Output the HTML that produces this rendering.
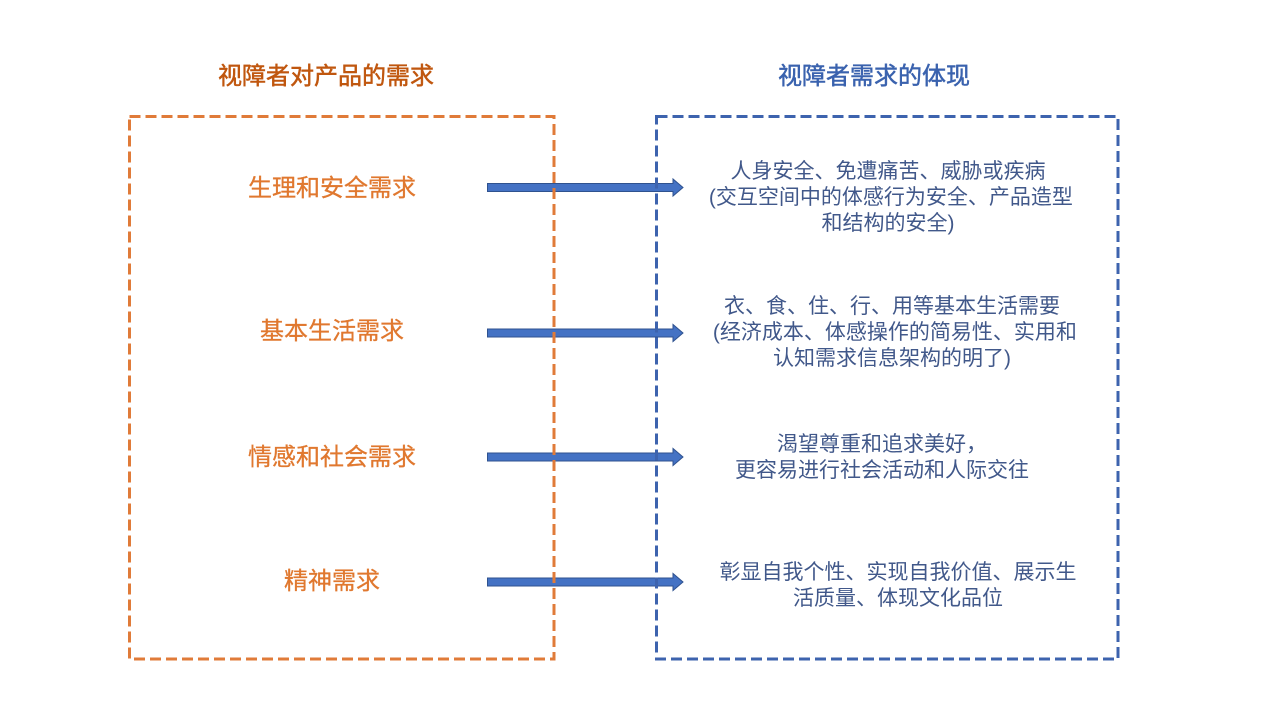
<!DOCTYPE html>
<html>
<head>
<meta charset="utf-8">
<style>
html,body{margin:0;padding:0;background:#fff;}
body{width:1280px;height:720px;overflow:hidden;position:relative;font-family:"Liberation Sans","Noto Sans CJK SC",sans-serif;}
svg{position:absolute;left:0;top:0;}
.t{position:absolute;white-space:nowrap;transform:translateX(-50%);text-align:center;}
.title{font-size:24px;line-height:30px;-webkit-text-stroke:0.5px currentColor;}
.lab{font-size:24px;line-height:30px;color:#E0782F;-webkit-text-stroke:0.3px currentColor;}
.rt{font-size:21px;line-height:26px;color:#41588A;}
</style>
</head>
<body>
<svg width="1280" height="720" viewBox="0 0 1280 720">
  <g fill="#4472C4" stroke="#2F528F" stroke-width="1">
    <polygon points="487.5,183.5 673,183.5 673,179 683,187.5 673,196 673,191.5 487.5,191.5"/>
    <polygon points="487.5,329 673,329 673,324.5 683,333 673,341.5 673,337 487.5,337"/>
    <polygon points="487.5,453 673,453 673,448.5 683,457 673,465.5 673,461 487.5,461"/>
    <polygon points="487.5,578 673,578 673,573.5 683,582 673,590.5 673,586 487.5,586"/>
  </g>
  <rect x="129.5" y="116.5" width="424.5" height="542.5" fill="none" stroke="#E07B39" stroke-width="3" stroke-dasharray="11 5"/>
  <rect x="656.5" y="116.5" width="461.5" height="542.5" fill="none" stroke="#3D63AE" stroke-width="3" stroke-dasharray="11 5"/>
</svg>

<div class="t title" style="left:326px;top:62px;color:#C0570F;">视障者对产品的需求</div>
<div class="t title" style="left:874px;top:62px;color:#3A62AE;">视障者需求的体现</div>

<div class="t lab" style="left:332px;top:174px;">生理和安全需求</div>
<div class="t lab" style="left:332px;top:317px;">基本生活需求</div>
<div class="t lab" style="left:332px;top:443px;">情感和社会需求</div>
<div class="t lab" style="left:332px;top:567px;">精神需求</div>

<div class="t rt" style="left:888px;top:159px;">人身安全、免遭痛苦、威胁或疾病<br>&nbsp;(交互空间中的体感行为安全、产品造型<br>和结构的安全)</div>
<div class="t rt" style="left:892px;top:294px;">衣、食、住、行、用等基本生活需要<br>&nbsp;(经济成本、体感操作的简易性、实用和<br>认知需求信息架构的明了)</div>
<div class="t rt" style="left:882px;top:432px;">渴望尊重和追求美好，<br>更容易进行社会活动和人际交往</div>
<div class="t rt" style="left:898px;top:560px;">彰显自我个性、实现自我价值、展示生<br>活质量、体现文化品位</div>
</body>
</html>
